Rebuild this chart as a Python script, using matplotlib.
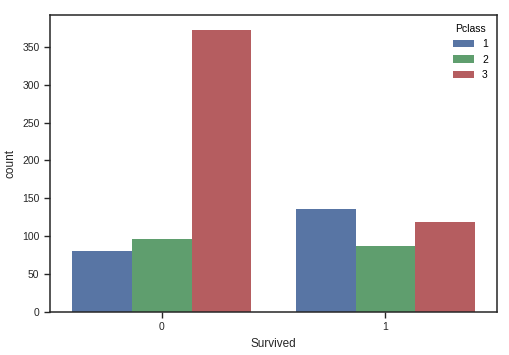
import numpy as np
import matplotlib
matplotlib.use("Agg")
import matplotlib.pyplot as plt

survived = ["0", "1"]
pclasses = ["1", "2", "3"]
counts_p1 = [80, 136]
counts_p2 = [97, 87]
counts_p3 = [372, 119]
colors = ["#5875a4", "#5f9e6e", "#b55d60"]

plt.rcParams['font.family'] = ['Liberation Sans', 'DejaVu Sans']
plt.rcParams['font.size'] = 8

fig = plt.figure(figsize=(5.1, 3.55), dpi=100)
ax = fig.add_axes([0.098, 0.121, 0.877, 0.837])

x = np.arange(len(survived))
w = 0.8 / 3
for i, (name, vals) in enumerate(zip(pclasses, [counts_p1, counts_p2, counts_p3])):
    ax.bar(x + (i - 1) * w, vals, width=w, color=colors[i], label=name)

ax.set_xlim(-0.5, 1.5)
ax.set_ylim(0, 392)
ax.set_yticks(np.arange(0, 400, 50))
ax.set_xticks(x)
ax.set_xticklabels(survived)
ax.set_xlabel("Survived", fontsize=8.5, color="#262626")
ax.set_ylabel("count", fontsize=8.5, color="#262626")
ax.tick_params(direction="out", length=4, width=1, colors="#262626", labelsize=7.5, labelcolor="#262626")
for s in ax.spines.values():
    s.set_color("#262626")
    s.set_linewidth(1.1)

leg = ax.legend(title="Pclass", frameon=False, loc="upper right", fontsize=7.5, title_fontsize=7.5)

fig.savefig("out.png", dpi=100)
